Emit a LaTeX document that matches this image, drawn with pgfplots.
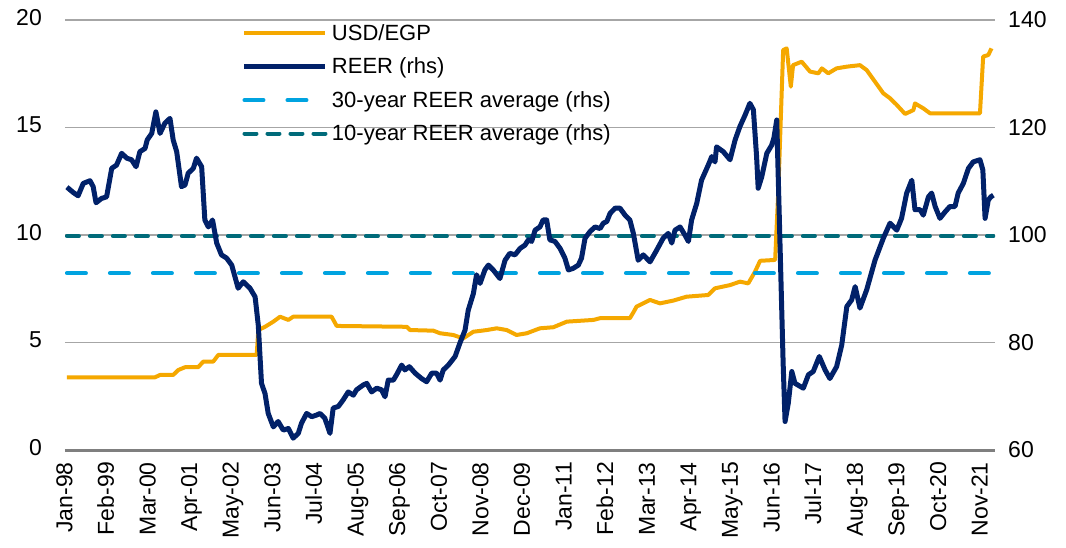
\documentclass[border=0pt]{standalone}
\usepackage{fontspec}
\setmainfont{Liberation Sans}
\usepackage{pgfplots}
\pgfplotsset{compat=1.18}
\definecolor{usdc}{HTML}{F5A800}
\definecolor{reerc}{HTML}{012169}
\definecolor{avgthirty}{HTML}{00A3E0}
\definecolor{avgten}{HTML}{006B7A}
\definecolor{gridc}{HTML}{A6A6A6}
\definecolor{axisc}{HTML}{7F7F7F}

\pgfplotsset{
  common/.style={
    scale only axis, width=930bp, height=430bp,
    at={(0,0)}, anchor=south west,
    xmin=-0.6, xmax=290,
    axis line style={draw=none},
    major tick length=0pt,
    tick label style={font=\fontsize{23bp}{27bp}\selectfont},
    /pgf/number format/assume math mode=true,
  },
  usdstyle/.style={draw=usdc, line width=4bp, line join=round},
  reerstyle/.style={draw=reerc, line width=5bp, line join=round},
  avgthirtystyle/.style={draw=avgthirty, line width=4bp, dash pattern=on 19bp off 24bp, line cap=round},
  avgtenstyle/.style={draw=avgten, line width=4bp, dash pattern=on 12bp off 11bp, line cap=round},
}

\begin{document}
\begin{tikzpicture}
\path[use as bounding box] (-65bp,-98bp) rectangle (1001bp,450bp);

\begin{axis}[common,
  ymin=0, ymax=20, ytick={0,5,...,20},
  ymajorgrids, grid style={draw=gridc, line width=1.8bp},
  extra y ticks={0}, extra y tick labels={},
  extra y tick style={grid style={draw=axisc, line width=3bp}},
  xtick={0,13,...,286},
  xticklabels={Jan-98,Feb-99,Mar-00,Apr-01,May-02,Jun-03,Jul-04,Aug-05,Sep-06,Oct-07,Nov-08,Dec-09,Jan-11,Feb-12,Mar-13,Apr-14,May-15,Jun-16,Jul-17,Aug-18,Sep-19,Oct-20,Nov-21},
  typeset ticklabels with strut,
  xticklabel style={rotate=90, anchor=east, inner sep=0pt},
  xticklabel shift=12bp,
  yticklabel style={anchor=east, inner sep=0pt, xshift=-23bp},
]
\addplot[usdstyle, no markers] coordinates {
(0,3.38) (27.5,3.38) (29.1,3.49) (33.2,3.49) (34.8,3.72) (36.9,3.85) (41.0,3.85) (42.6,4.11) (45.7,4.11) (47.3,4.42) (59.3,4.42) (59.8,5.58) (61.9,5.73) (64.5,5.97) (66.6,6.2) (69.2,6.05) (70.7,6.2) (82.7,6.2) (84.3,5.77) (106.2,5.73) (107.2,5.58) (114.5,5.55) (116.6,5.43) (120.7,5.35) (123.8,5.19) (127.0,5.5) (131.2,5.58) (134.3,5.66) (137.4,5.58) (140.5,5.35) (143.7,5.43) (147.8,5.66) (152.0,5.71) (156.2,5.97) (164.5,6.05) (166.6,6.13) (175.9,6.13) (177.0,6.4) (178.0,6.67) (182.2,6.98) (185.3,6.82) (189.5,6.95) (193.6,7.13) (200.4,7.21) (202.5,7.52) (207.2,7.67) (210.3,7.83) (212.9,7.75) (215.0,8.29) (216.6,8.8) (221.3,8.84) (222.3,12.09) (223.8,18.6) (224.9,18.68) (226.2,16.9) (226.9,17.9) (229.6,18.06) (232.2,17.6) (234.8,17.52) (235.9,17.75) (237.9,17.52) (240.5,17.75) (243.7,17.83) (247.8,17.9) (249.9,17.67) (252.5,17.13) (255.1,16.59) (257.2,16.36) (259.3,16.05) (261.9,15.63) (264.5,15.81) (265.0,16.12) (267.6,15.89) (269.7,15.66) (285.3,15.66) (286.3,18.3) (287.9,18.37) (288.9,18.68)
};
\end{axis}

\begin{axis}[common,
  ymin=60, ymax=140, ytick={60,80,...,140},
  axis y line*=right, axis x line=none,
  yticklabel style={anchor=west, inner sep=0pt, xshift=13bp},
  legend style={at={(0.1903,1.0085)}, anchor=north west, draw=none, fill=none,
    font=\fontsize{22bp}{26bp}\selectfont, row sep=0pt, inner sep=0pt, outer sep=0pt,
    nodes={inner sep=0pt, minimum height=33.5bp},
    /tikz/every odd column/.append style={column sep=4bp}},
  legend cell align=left,
  legend image code/.code={\draw[#1] (0bp,0bp) -- (81bp,0bp);},
]
\addlegendimage{usdstyle}\addlegendentry{USD/EGP}
\addlegendimage{reerstyle}\addlegendentry{REER (rhs)}
\addlegendimage{avgthirtystyle}\addlegendentry{30-year REER average (rhs)}
\addlegendimage{avgtenstyle}\addlegendentry{10-year REER average (rhs)}

\addplot[avgthirtystyle, no markers, forget plot] coordinates {(0,92.9) (289.5,92.9)};
\addplot[avgtenstyle, no markers, forget plot] coordinates {(0,99.8) (289.5,99.8)};
\addplot[reerstyle, no markers, forget plot] coordinates {
(0,108.9) (2.0,107.9) (3.5,107.3) (5.1,109.6) (7.2,110.1) (8.2,109.0) (9.1,106.0) (10.8,106.8) (12.4,107.1) (14.0,112.4) (15.5,113.0) (17.1,115.2) (18.7,114.3) (20.2,114.0) (21.6,112.7) (22.8,115.5) (24.4,116.1) (25.1,117.7) (26.5,118.9) (27.8,122.9) (29.1,118.9) (30.6,120.8) (32.2,121.7) (33.2,117.7) (34.3,115.5) (35.8,109.0) (36.9,109.3) (37.9,111.5) (39.5,112.4) (40.5,114.3) (42.1,112.7) (43.1,102.8) (44.2,101.5) (45.5,102.8) (46.8,98.5) (48.3,96.3) (49.9,95.7) (51.5,94.4) (53.5,90.1) (55.1,91.3) (57.2,90.1) (58.8,88.5) (59.8,83.2) (60.8,72.4) (61.9,70.5) (62.9,66.8) (64.5,64.3) (66.0,65.3) (67.6,63.7) (69.2,64.0) (70.7,62.2) (72.3,63.1) (73.3,65.0) (74.9,66.8) (76.5,66.2) (78.0,66.5) (79.1,66.8) (80.6,65.9) (82.2,63.1) (83.2,67.8) (84.8,68.1) (86.3,69.3) (87.9,70.8) (89.5,70.2) (90.5,71.2) (92.6,72.1) (93.7,72.4) (95.2,70.8) (96.8,71.5) (98.3,71.2) (99.4,69.9) (100.4,73.0) (102.0,73.0) (103.0,74.0) (104.6,75.8) (105.6,74.9) (107.0,75.5) (108.8,74.3) (110.8,73.3) (112.4,72.7) (114.0,74.3) (115.5,74.3) (116.6,73.0) (117.6,74.9) (119.2,75.8) (121.3,77.4) (122.8,79.9) (124.4,82.3) (125.4,86.0) (127.0,89.1) (128.0,92.6) (129.1,91.0) (130.6,93.5) (131.7,94.4) (133.2,93.5) (135.3,91.9) (136.9,95.3) (138.4,96.6) (140.0,96.3) (141.6,97.5) (143.1,98.1) (144.2,99.1) (145.2,98.8) (146.3,100.9) (147.8,101.5) (148.8,102.8) (149.9,102.8) (150.9,99.1) (152.5,98.8) (154.1,97.5) (155.6,95.7) (156.7,93.5) (158.2,93.8) (159.8,94.4) (160.8,95.7) (161.9,99.4) (163.4,100.6) (165.0,101.5) (166.6,101.2) (167.6,102.2) (168.7,102.5) (169.7,104.0) (171.3,105.0) (172.8,105.0) (174.4,103.7) (175.9,102.8) (177.0,100.3) (178.5,95.3) (180.1,96.3) (182.2,95.0) (184.3,97.2) (186.3,99.4) (187.9,100.3) (189.0,98.5) (190.0,100.9) (191.6,101.5) (193.1,100.0) (194.2,98.8) (195.2,102.8) (196.8,105.9) (198.3,110.2) (200.4,113.0) (201.5,114.6) (202.5,113.6) (203.0,116.4) (205.1,115.5) (207.2,114.0) (208.8,117.7) (210.3,120.2) (211.9,122.3) (213.4,124.5) (214.5,123.3) (215.5,114.6) (216.0,108.7) (217.1,110.8) (218.7,115.2) (220.2,116.7) (220.9,118.0) (221.8,121.4) (223.8,76.1) (224.4,65.3) (225.4,68.7) (226.5,74.6) (227.5,72.4) (230.1,71.5) (231.7,74.0) (233.2,74.6) (235.1,77.4) (236.9,74.9) (238.4,73.3) (240.5,75.5) (242.1,79.5) (243.7,86.7) (245.2,87.9) (246.3,90.4) (247.8,86.4) (249.9,89.8) (252.5,95.3) (255.1,99.4) (257.2,102.2) (259.3,100.9) (260.8,103.1) (262.4,107.8) (264.0,110.2) (265.0,104.7) (266.6,104.7) (267.6,103.7) (269.2,107.1) (270.2,107.8) (271.3,105.3) (272.8,103.1) (274.4,104.3) (275.9,105.3) (277.5,105.3) (278.5,107.8) (280.1,109.6) (281.7,112.4) (283.2,113.6) (285.3,114.0) (286.2,112.1) (286.9,103.1) (287.9,106.5) (288.7,107.1) (289.5,107.4)
};
\end{axis}
\end{tikzpicture}
\end{document}
